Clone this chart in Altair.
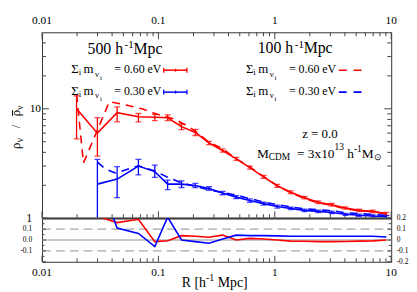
import altair as alt
import pandas as pd

FONT = "Liberation Serif"

# ---------------- data ----------------
# 500 h^-1 Mpc box (solid, with error bars)
R_500 = [0.0198, 0.0299, 0.0442, 0.0673, 0.0931, 0.120, 0.158, 0.2075, 0.272, 0.356, 0.466,
         0.611, 0.80, 1.05, 1.37, 1.80, 2.36, 3.09, 4.04, 5.30, 6.94, 9.09]
red_500 = [10.0, 5.99, 9.22, 8.47, 8.36, 8.28, 6.87, 6.08, 4.87, 4.16, 3.49,
           2.90, 2.39, 1.98, 1.73, 1.54, 1.40, 1.33, 1.24, 1.18, 1.156, 1.10]
red_500_hi = [13.1, 8.3, 10.4, 9.06, 8.9, 8.8, 7.3, 6.47, 5.05, 4.3, 3.6,
              2.99, 2.46, 2.04, 1.78, 1.58, 1.44, 1.37, 1.27, 1.21, 1.185, 1.13]
red_500_lo = [5.3, 3.7, 7.6, 7.6, 7.8, 7.8, 6.45, 5.7, 4.7, 4.02, 3.38,
              2.81, 2.32, 1.92, 1.68, 1.50, 1.36, 1.29, 1.21, 1.15, 1.127, 1.07]

R_500_b = [0.0299, 0.0442, 0.0673, 0.0931, 0.120, 0.158, 0.2075, 0.272, 0.356, 0.466,
           0.611, 0.80, 1.05, 1.37, 1.80, 2.36, 3.09, 4.04, 5.30, 6.94, 9.09]
blue_500 = [2.05, 2.28, 3.0, 2.67, 2.05, 2.05, 1.99, 1.87, 1.70, 1.56,
            1.45, 1.36, 1.28, 1.23, 1.18, 1.155, 1.13, 1.086, 1.064, 1.05, 1.03]
blue_500_hi = [3.45, 2.96, 3.45, 3.06, 2.23, 2.20, 2.08, 1.94, 1.76, 1.61,
               1.50, 1.40, 1.32, 1.26, 1.21, 1.185, 1.16, 1.11, 1.09, 1.075, 1.055]
blue_500_lo = [0.5, 1.54, 2.49, 2.36, 1.83, 1.91, 1.91, 1.80, 1.64, 1.51,
               1.40, 1.32, 1.24, 1.20, 1.15, 1.125, 1.10, 1.06, 1.04, 1.025, 1.005]

# 100 h^-1 Mpc box (dashed)
R_100_r = [0.0198, 0.0227, 0.0379, 0.0527, 0.072, 0.1005, 0.135, 0.164, 0.2075, 0.272, 0.356,
           0.466, 0.611, 0.80, 1.05, 1.37, 1.80, 2.36, 3.09, 4.04, 5.30, 6.94, 9.09]
red_100 = [13.6, 3.2, 11.6, 10.85, 10.0, 8.84, 8.1, 7.3, 6.25, 4.95, 4.32,
           3.49, 2.94, 2.41, 1.98, 1.71, 1.52, 1.38, 1.31, 1.22, 1.17, 1.147, 1.10]
R_100_b = [0.0299, 0.0354, 0.0431, 0.0673, 0.0931, 0.120, 0.158, 0.2075, 0.272, 0.356, 0.466,
           0.611, 0.80, 1.05, 1.37, 1.80, 2.36, 3.09, 4.04, 5.30, 6.94, 9.09]
blue_100 = [3.25, 2.8, 2.58, 3.02, 2.7, 2.37, 2.1, 1.96, 1.81, 1.72, 1.63,
            1.51, 1.41, 1.33, 1.27, 1.22, 1.195, 1.17, 1.125, 1.10, 1.087, 1.06]

# lower panel: relative difference
R_ratio = R_500_b
red_ratio = [0.22, 0.16, 0.19, -0.015, -0.006, 0.04, 0.035, 0.025, 0.045, 0.0,
             0.015, 0.01, 0.0, -0.01, -0.012, -0.015, -0.015, -0.013, -0.01, -0.008, 0.0]
blue_ratio = [0.6, 0.11, 0.06, -0.06, 0.21, 0.0, -0.015, -0.03, 0.01, 0.045,
              0.04, 0.04, 0.038, 0.035, 0.035, 0.035, 0.035, 0.035, 0.035, 0.035, 0.028]

# ticks and tick labels
x_major = [0.01, 0.1, 1, 10]
x_labels = ["0.01", "0.1", "1", "10"]
x_minor = [0.02, 0.03, 0.04, 0.05, 0.06, 0.07, 0.08, 0.09,
           0.2, 0.3, 0.4, 0.5, 0.6, 0.7, 0.8, 0.9,
           2, 3, 4, 5, 6, 7, 8, 9]
top_y_major = [1, 10]
top_y_minor = [2, 3, 4, 5, 6, 7, 8, 9, 20, 30, 40]
bot_y_major = [-0.2, -0.1, 0.0, 0.1, 0.2]
bot_y_minor = [-0.15, -0.05, 0.05, 0.15]
bot_left_vals = [0.1, 0.0, -0.1]
bot_left_labels = ["0.1", "0.0", "-0.1"]
bot_right_vals = [0.2, 0.1, 0.0, -0.1, -0.2]
bot_right_labels = ["0.2", "0.1", "0", "-0.1", "-0.2"]
ref_dashed = [0.1, -0.1]
ref_solid = [0.0]

# ---------------- layout / style ----------------
W, H1, H2 = 353, 188, 44
OX, OY1, OY2 = 42, 30, 218          # page position of the panels' origin
RED, BLUE = "#ff0000", "#0000ff"
TICK = "#444444"
DUMMY = pd.DataFrame({"a": [0]})

xs = alt.Scale(type="log", domain=[0.01, 10], nice=False)
ys1 = alt.Scale(type="log", domain=[1, 50], nice=False)
ys2 = alt.Scale(domain=[-0.2, 0.2], nice=False, zero=False)

X = alt.X("R:Q", scale=xs, axis=None)
Y1 = lambda f: alt.Y(f + ":Q", scale=ys1, axis=None)
Y2 = lambda f: alt.Y(f + ":Q", scale=ys2, axis=None)

EM = {' ': .25, 'h': .5, 'M': .889, 'p': .5, 'c': .444, '-': .333, 'i': .278, 'm': .778,
      'ν': .5, '=': .564, '.': .25, 'e': .444, 'V': .722, 'z': .444, 'C': .667, 'D': .722,
      'x': .5, 'Σ': .6, '⊙': .8, 'R': .667, '[': .333, ']': .333, 'ρ': .5, '/': .278}


def tw(s, size):
    return sum(EM.get(c, .5) for c in s) * size


def txt(s, x, y, size, oy, angle=0, align="left"):
    m = alt.Chart(DUMMY).mark_text(text=s, font=FONT, fontSize=size, align=align,
                                   baseline="alphabetic", color="black", angle=angle)
    return m.encode(x=alt.value(x - OX), y=alt.value(y - oy))


def rich(pieces, x0, y0, oy):
    # SVG drops leading spaces, so they are turned into an advance of the pen
    out, x = [], x0
    for s, size, dy in pieces:
        body = s.lstrip(" ")
        x += tw(s[:len(s) - len(body)], size)
        out.append(txt(body, x, y0 + dy, size, oy))
        x += tw(body, size)
    return out


def seg(x1, y1, x2, y2, color, oy, width=1.5, dash=None):
    kw = dict(color=color, strokeWidth=width)
    if dash:
        kw["strokeDash"] = dash
    return alt.Chart(DUMMY).mark_rule(**kw).encode(
        x=alt.value(x1 - OX), x2=alt.value(x2 - OX), y=alt.value(y1 - oy), y2=alt.value(y2 - oy))


def xticks(vals, y_from, y_to):
    return alt.Chart(pd.DataFrame({"R": vals})).mark_rule(color=TICK, strokeWidth=1).encode(
        x=X, y=alt.value(y_from), y2=alt.value(y_to))


def yticks(vals, Yf, length):
    df = pd.DataFrame({"V": vals})
    left = alt.Chart(df).mark_rule(color=TICK, strokeWidth=1).encode(
        y=Yf("V"), x=alt.value(0), x2=alt.value(length))
    right = alt.Chart(df).mark_rule(color=TICK, strokeWidth=1).encode(
        y=Yf("V"), x=alt.value(W), x2=alt.value(W - length))
    return [left, right]


def errbars(R, lo, hi, color):
    df = pd.DataFrame({"R": R, "lo": lo, "hi": hi})
    bar = alt.Chart(df).mark_rule(color=color, strokeWidth=1.3, clip=True).encode(
        x=X, y=Y1("lo"), y2=alt.Y2("hi"))
    c1 = alt.Chart(df).mark_tick(color=color, orient="horizontal", size=6, thickness=1.3,
                                 clip=True).encode(x=X, y=Y1("lo"))
    c2 = alt.Chart(df).mark_tick(color=color, orient="horizontal", size=6, thickness=1.3,
                                 clip=True).encode(x=X, y=Y1("hi"))
    return [bar, c1, c2]


def line(R, V, color, Yf, dash=None):
    kw = dict(color=color, strokeWidth=1.6, clip=True)
    if dash:
        kw["strokeDash"] = dash
    return alt.Chart(pd.DataFrame({"R": R, "V": V})).mark_line(**kw).encode(x=X, y=Yf("V"))


DASH = [8, 6]

# ---------------- upper panel ----------------
top_layers = []
top_layers += [xticks(x_major, 0, 7), xticks(x_minor, 0, 4),
               xticks(x_major, H1, H1 - 7), xticks(x_minor, H1, H1 - 4)]
top_layers += yticks(top_y_major, Y1, 7) + yticks(top_y_minor, Y1, 4)
top_layers += [line(R_100_r, red_100, RED, Y1, DASH), line(R_100_b, blue_100, BLUE, Y1, DASH)]
top_layers += errbars(R_500, red_500_lo, red_500_hi, RED)
top_layers += errbars(R_500_b, blue_500_lo, blue_500_hi, BLUE)
top_layers += [line(R_500, red_500, RED, Y1), line(R_500_b, blue_500, BLUE, Y1)]
# divider at rho/rho = 1
top_layers.append(alt.Chart(pd.DataFrame({"V": [1]})).mark_rule(color="#6a6a6a", strokeWidth=2.2)
                  .encode(y=Y1("V"), x=alt.value(0), x2=alt.value(W)))
# top x tick labels
top_layers.append(alt.Chart(pd.DataFrame({"R": x_major, "t": x_labels})).mark_text(
    font=FONT, fontSize=11.5, baseline="alphabetic", align="center", color="black")
    .encode(x=X, y=alt.value(21.7 - OY1), text="t:N"))
# y tick labels
top_layers.append(alt.Chart(pd.DataFrame({"V": [top_y_major[1]], "t": ["10"]})).mark_text(
    font=FONT, fontSize=11.5, baseline="middle", align="right", color="black")
    .encode(y=Y1("V"), x=alt.value(-1), text="t:N"))
top_layers.append(alt.Chart(pd.DataFrame({"V": [top_y_major[0]], "t": ["1"]})).mark_text(
    font=FONT, fontSize=12, baseline="middle", align="right", color="black")
    .encode(y=Y1("V"), x=alt.value(-10), text="t:N"))
# y axis title (rotated, reads bottom to top)
YT = 19.8
top_layers += [txt("ρ", YT, 148, 13, OY1, angle=270),
               txt("ν", YT + 3, 141.2, 9.5, OY1, angle=270),
               txt("/", YT, 127, 13, OY1, angle=270),
               txt("ρ", YT, 115, 13, OY1, angle=270),
               txt("ν", YT + 3, 108.2, 9.5, OY1, angle=270),
               seg(YT - 7.6, 114.5, YT - 7.6, 108.8, "black", OY1, 1)]
# headers
top_layers += [txt("500 h", 88, 51.5, 16, OY1), txt("-1", 125.5, 46, 11, OY1),
               txt("Mpc", 134.5, 51.5, 16, OY1)]
top_layers += [txt("100 h", 260, 51, 16, OY1), txt("-1", 297.5, 45.5, 11, OY1),
               txt("Mpc", 306.5, 51, 16, OY1)]
# legend entries
for dx in (0, 176.6):
    for yb, lab in ((71.5, "= 0.60 eV"), (93.3, "= 0.30 eV")):
        top_layers += [txt("Σ", 71.5 + dx, yb, 13, OY1), txt("i", 79 + dx, yb + 2, 9, OY1),
                       txt("m", 84 + dx, yb, 13, OY1), txt("ν", 95.5 + dx, yb + 3.5, 9, OY1),
                       txt("i", 100.5 + dx, yb + 6.5, 7, OY1), txt(lab, 115 + dx, yb, 12, OY1)]
for yc, col in ((68.3, RED), (90.5, BLUE)):
    top_layers += [seg(165, yc, 188.5, yc, col, OY1, 1.5),
                   seg(165, yc - 2.5, 165, yc + 2.5, col, OY1, 1.3),
                   seg(188.5, yc - 2.5, 188.5, yc + 2.5, col, OY1, 1.3),
                   seg(177, yc - 1.5, 177, yc + 1.5, col, OY1, 1.3),
                   seg(342, yc, 365, yc, col, OY1, 1.6, [8, 7])]
# annotations
top_layers.append(txt("z = 0.0", 305, 136.7, 13, OY1))
top_layers += rich([("M", 13.5, 0), ("CDM", 9.5, 2.8), ("  = 3x10", 13.5, 0), ("13", 9.5, -7.5),
                    (" h", 13.5, 0), ("-1", 9.5, -6), ("M", 13.5, 0), ("⊙", 9.5, 2.8)],
                   259.3, 156.7, OY1)
# invisible anchor for the top edge
top_layers.append(alt.Chart(DUMMY).mark_rule(strokeOpacity=0).encode(
    x=alt.value(0), x2=alt.value(1), y=alt.value(-22), y2=alt.value(-22)))

top = alt.layer(*top_layers).properties(width=W, height=H1)

# ---------------- lower panel ----------------
bot_layers = []
bot_layers.append(alt.Chart(pd.DataFrame({"V": ref_dashed})).mark_rule(
    color="#a8a8a8", strokeWidth=1.3, strokeDash=[9, 5]).encode(y=Y2("V"), x=alt.value(0), x2=alt.value(W)))
bot_layers.append(alt.Chart(pd.DataFrame({"V": ref_solid})).mark_rule(
    color="#b4b4b4", strokeWidth=1.3).encode(y=Y2("V"), x=alt.value(0), x2=alt.value(W)))
bot_layers += [xticks(x_major, H2, H2 - 6), xticks(x_minor, H2, H2 - 3.5)]
bot_layers += yticks(bot_y_major, Y2, 4) + yticks(bot_y_minor, Y2, 2.5)
bot_layers += [line(R_ratio, red_ratio, RED, Y2), line(R_ratio, blue_ratio, BLUE, Y2)]
bot_layers.append(alt.Chart(pd.DataFrame({"R": x_major, "t": x_labels})).mark_text(
    font=FONT, fontSize=11.5, baseline="alphabetic", align="center", color="black")
    .encode(x=X, y=alt.value(276.7 - OY2), text="t:N"))
bot_layers.append(alt.Chart(pd.DataFrame({"V": bot_left_vals, "t": bot_left_labels})).mark_text(
    font=FONT, fontSize=7.5, baseline="middle", align="right", color="black")
    .encode(y=Y2("V"), x=alt.value(-10), text="t:N"))
bot_layers.append(alt.Chart(pd.DataFrame({"V": bot_right_vals, "t": bot_right_labels})).mark_text(
    font=FONT, fontSize=7.5, baseline="middle", align="left", color="black")
    .encode(y=Y2("V"), x=alt.value(W + 5.5), text="t:N"))
bot_layers += rich([("R [h", 14, 0), ("-1", 10, -6), (" Mpc]", 14, 0)], 183.3, 287.5, OY2)

bottom = alt.layer(*bot_layers).properties(width=W, height=H2)

chart = alt.vconcat(top, bottom, spacing=0, bounds="flush").properties(
    padding={"left": 1.4, "top": 0, "right": 0, "bottom": 0}
).configure_view(stroke="#333333", strokeWidth=1)

chart.save("out.html", embed_options={"renderer": "svg", "actions": False})
